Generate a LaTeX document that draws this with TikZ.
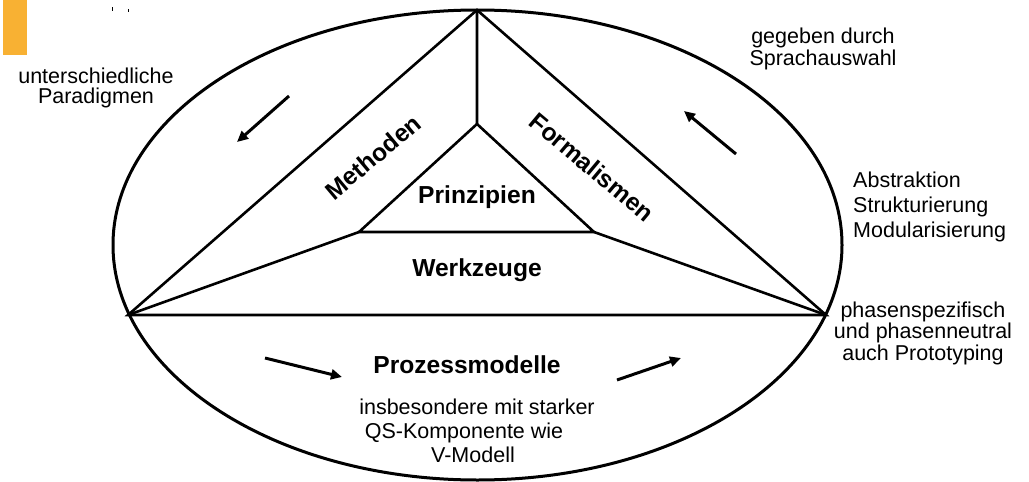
\documentclass[tikz,border=0pt]{standalone}
\usepackage{fontspec}
\setmainfont{Liberation Sans}
\usepackage{xcolor}
\usepackage{tikz}
\usetikzlibrary{arrows.meta}
\definecolor{barorange}{HTML}{F8B133}
\tikzset{
  frame/.style={line width=2.6pt,line join=miter},
  pfeil/.style={line width=3pt,-{Triangle[length=11pt,width=10pt]}},
  area/.style={font=\fontsize{24.6}{28}\selectfont\bfseries,inner sep=0pt},
  remark/.style={font=\fontsize{21.5}{#1}\selectfont,align=center,inner sep=0pt,anchor=base},
  remark/.default=24
}

\begin{document}
\begin{tikzpicture}[x=1pt,y=-1pt]
      \useasboundingbox (0,0) rectangle (1029,482);
      \fill[barorange] (3,0) rectangle (27,55);
      \draw[line width=1pt] (112,7) -- (112,11) (128,9) -- (128,12);

      % Ellipse und Dreiecke
      \coordinate (mid) at (477.5,245);
      \coordinate (apex) at (477,10);
      \coordinate (lc) at (128,315);
      \coordinate (rc) at (826,315);
      \coordinate (ia) at (477,124);
      \coordinate (il) at (359,232);
      \coordinate (ir) at (594,232);
      \draw[line width=3pt] (mid) ellipse [x radius=364.5pt,y radius=235pt];
      \draw[frame] (lc) -- (apex) -- (rc) -- cycle;
      \draw[frame] (ia) -- (il) -- (ir) -- cycle;
      \draw[frame] (apex) -- (ia) (il) -- (lc) (ir) -- (rc);

      \node (meth) [area,rotate=40] at (373,157) {Methoden};
      \node (form) [area,rotate=-40] at (592,167) {Formalismen};
      \node (prin) [area,anchor=base] at (477,203) {Prinzipien};
      \node (werk) [area,anchor=base] at (477,276) {Werkzeuge};
      \node (proz) [area,anchor=base] at (467,373) {Prozessmodelle};

      % Anker: Grundlinie der letzten Zeile
      \node (para) [remark=20] at (96,103) {unterschiedliche\\Paradigmen};
      \node (sprache) [remark=22] at (823,65) {gegeben durch\\Sprachauswahl};
      \node (abstr) [remark=25,align=left,anchor=base west] at (853,237)
        {Abstraktion\\Strukturierung\\Modularisierung};
      \node (phase) [remark=21.5] at (923,360)
        {phasenspezifisch\\und phasenneutral\\auch Prototyping};
      \node (qs) [remark=24] at (477,462)
        {insbesondere mit starker\\QS-Komponente wie\rule{26pt}{0pt}\\V-Modell\rule{8pt}{0pt}};

      % Pfeile
      \coordinate (m1) at (289,96);  \coordinate (m2) at (237,142);
      \coordinate (f1) at (736,154); \coordinate (f2) at (684,111);
      \coordinate (p1) at (265,358); \coordinate (p2) at (342,377);
      \coordinate (p3) at (617,380); \coordinate (p4) at (681,358);
      \draw[pfeil] (m1) -- (m2);
      \draw[pfeil] (f1) -- (f2);
      \draw[pfeil] (p1) -- (p2);
      \draw[pfeil] (p3) -- (p4);
    \end{tikzpicture}
\end{document}
